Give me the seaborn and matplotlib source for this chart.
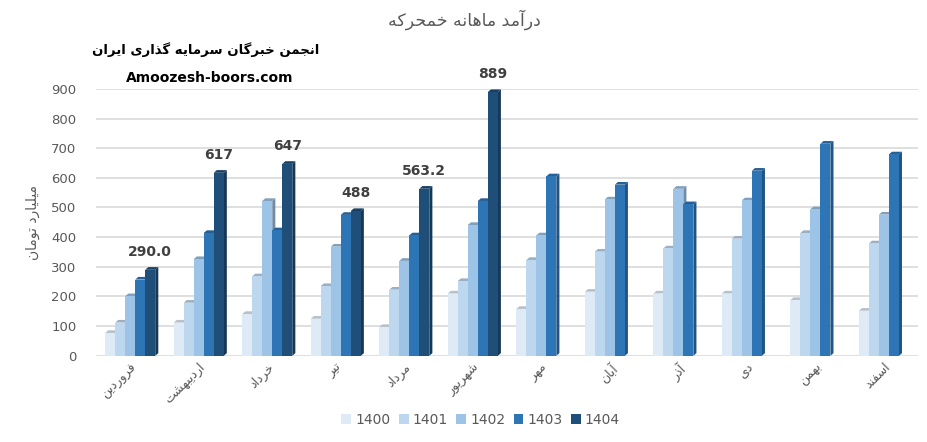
import numpy as np
import pandas as pd
import matplotlib
matplotlib.use("Agg")
import matplotlib.pyplot as plt
import matplotlib.colors as mcolors
from matplotlib.patches import Polygon
import seaborn as sns

# ---------------- data ----------------
months = ["فروردین", "اردیبهشت", "خرداد", "تیر", "مرداد", "شهریور",
          "مهر", "آبان", "آذر", "دی", "بهمن", "اسفند"]
years = ["1400", "1401", "1402", "1403", "1404"]
v1400 = [77, 112, 141, 125, 97, 210, 158, 216, 210, 210, 188, 152]
v1401 = [112, 179, 268, 235, 223, 252, 323, 351, 362, 395, 414, 379]
v1402 = [201, 326, 522, 368, 320, 441, 406, 527, 563, 524, 494, 476]
v1403 = [257, 414, 423, 475, 406, 522, 605, 577, 511, 624, 715, 679]
v1404 = [290.0, 617, 647, 488, 563.2, 889, np.nan, np.nan, np.nan, np.nan, np.nan, np.nan]
labels1404 = ["290.0", "617", "647", "488", "563.2", "889"]
colors = ["#DEEBF7", "#BDD7EE", "#9DC3E6", "#2E75B6", "#1F4E79"]
title = "درآمد ماهانه خمحرکه"
ylabel = "میلیارد تومان"
brand_fa = "انجمن خبرگان سرمایه گذاری ایران"
brand_en = "Amoozesh-boors.com"

# ------------- minimal Persian shaping -------------
_forms = {
    "ا": ("\uFE8D", "\uFE8E", None, None),
    "آ": ("\uFE81", "\uFE82", None, None),
    "ب": ("\uFE8F", "\uFE90", "\uFE91", "\uFE92"),
    "پ": ("\uFB56", "\uFB57", "\uFB58", "\uFB59"),
    "ت": ("\uFE95", "\uFE96", "\uFE97", "\uFE98"),
    "ج": ("\uFE9D", "\uFE9E", "\uFE9F", "\uFEA0"),
    "ح": ("\uFEA1", "\uFEA2", "\uFEA3", "\uFEA4"),
    "خ": ("\uFEA5", "\uFEA6", "\uFEA7", "\uFEA8"),
    "د": ("\uFEA9", "\uFEAA", None, None),
    "ذ": ("\uFEAB", "\uFEAC", None, None),
    "ر": ("\uFEAD", "\uFEAE", None, None),
    "ز": ("\uFEAF", "\uFEB0", None, None),
    "س": ("\uFEB1", "\uFEB2", "\uFEB3", "\uFEB4"),
    "ش": ("\uFEB5", "\uFEB6", "\uFEB7", "\uFEB8"),
    "ف": ("\uFED1", "\uFED2", "\uFED3", "\uFED4"),
    "ک": ("\uFB8E", "\uFB8F", "\uFB90", "\uFB91"),
    "گ": ("\uFB92", "\uFB93", "\uFB94", "\uFB95"),
    "ل": ("\uFEDD", "\uFEDE", "\uFEDF", "\uFEE0"),
    "م": ("\uFEE1", "\uFEE2", "\uFEE3", "\uFEE4"),
    "ن": ("\uFEE5", "\uFEE6", "\uFEE7", "\uFEE8"),
    "و": ("\uFEED", "\uFEEE", None, None),
    "ه": ("\uFEE9", "\uFEEA", "\uFEEB", "\uFEEC"),
    "ی": ("\uFBFC", "\uFBFD", "\uFBFE", "\uFBFF"),
}


def fa(text):
    out = []
    n = len(text)
    for i, ch in enumerate(text):
        if ch not in _forms:
            out.append(ch)
            continue
        iso, fin, ini, med = _forms[ch]
        prev = text[i - 1] if i > 0 else None
        nxt = text[i + 1] if i < n - 1 else None
        jp = prev in _forms and _forms[prev][2] is not None
        jn = ini is not None and nxt in _forms
        if jp and jn:
            out.append(med)
        elif jp:
            out.append(fin)
        elif jn:
            out.append(ini)
        else:
            out.append(iso)
    return "".join(out)[::-1]


def shade(c, f):
    r, g, b = mcolors.to_rgb(c)
    return (r * f, g * f, b * f)


# ---------------- frame ----------------
df = pd.DataFrame({"month": months, "1400": v1400, "1401": v1401,
                   "1402": v1402, "1403": v1403, "1404": v1404})
long = df.melt(id_vars="month", var_name="year", value_name="value")

sns.set_theme(style="white")
plt.rcParams["font.family"] = ["DejaVu Sans"]

fig = plt.figure(figsize=(9.28, 4.42), dpi=100)
ax = fig.add_axes([0.1034, 0.195, 0.886, 0.604])

sns.barplot(data=long, x="month", y="value", hue="year", order=months,
            hue_order=years, palette=colors, width=0.73, saturation=1,
            ax=ax, legend=True, edgecolor="none")

ax.set_ylim(0, 900)
ax.set_xlim(-0.5, len(months) - 0.5)

# pseudo-3D depth faces derived from the drawn bars
dx, dy = 0.045, 9
for ci, cont in enumerate(ax.containers):
    col = colors[ci]
    for p in cont:
        if p is None:
            continue
        h = p.get_height()
        if not np.isfinite(h) or h <= 0:
            continue
        x0, w = p.get_x(), p.get_width()
        side = Polygon([(x0 + w, 0), (x0 + w + dx, dy), (x0 + w + dx, h + dy),
                        (x0 + w, h)], closed=True, facecolor=shade(col, 0.72),
                       edgecolor="none", zorder=p.get_zorder() - 0.1)
        top = Polygon([(x0, h), (x0 + dx, h + dy), (x0 + w + dx, h + dy),
                       (x0 + w, h)], closed=True,
                      facecolor=shade(col, 0.82), edgecolor="none",
                      zorder=p.get_zorder() - 0.1)
        ax.add_patch(side)
        ax.add_patch(top)

ax.set_yticks(range(0, 1000, 100))
ax.yaxis.grid(True, color="#D9D9D9", linewidth=1.2)
ax.set_axisbelow(True)
for s in ax.spines.values():
    s.set_visible(False)
ax.tick_params(axis="y", colors="#595959", labelsize=9.5, length=0, pad=14)
ax.tick_params(axis="x", colors="#595959", labelsize=9, length=0)
ax.set_xticks(range(len(months)))
ax.set_xticklabels([fa(m) for m in months], rotation=45, ha="right",
                   rotation_mode="anchor")
ax.set_xlabel("")
ax.set_ylabel(fa(ylabel), color="#595959", fontsize=10, labelpad=8)

# data labels for 1404
bars1404 = [p for p in ax.containers[4] if p is not None]
bars1404 = [p for p in bars1404 if np.isfinite(p.get_height()) and p.get_height() > 0]
for p, txt in zip(bars1404, labels1404):
    ax.annotate(txt, (p.get_x() + p.get_width() / 2, p.get_height()),
                xytext=(0, 8), textcoords="offset points", ha="center",
                va="bottom", fontsize=10, fontweight="bold", color="#404040")

# legend
h, l = ax.get_legend_handles_labels()
ax.legend_.remove()
fig.legend(h, l, loc="center", bbox_to_anchor=(0.518, 0.05), ncol=5,
           frameon=False, fontsize=10, handlelength=0.7, handleheight=0.7,
           columnspacing=0.6, handletextpad=0.3, labelcolor="#595959")

fig.text(0.5, 0.955, fa(title), ha="center", va="center", fontsize=12.5,
         color="#595959")
fig.text(0.222, 0.887, fa(brand_fa), ha="center", va="center", fontsize=9.5,
         fontweight="bold", color="black")
fig.text(0.226, 0.824, brand_en, ha="center", va="center", fontsize=10,
         fontweight="bold", color="black")

fig.savefig("out.png", dpi=100)
